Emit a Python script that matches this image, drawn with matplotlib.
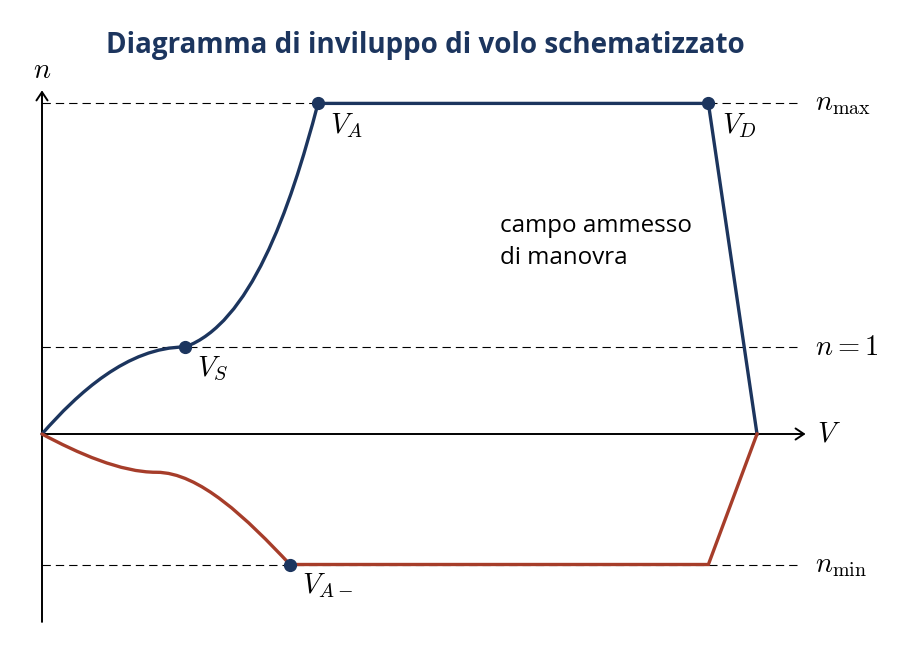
import matplotlib
matplotlib.use("Agg")
import matplotlib.pyplot as plt
from matplotlib.path import Path
from matplotlib.patches import PathPatch, FancyArrowPatch

plt.rcParams['mathtext.fontset'] = 'cm'
plt.rcParams['lines.scale_dashes'] = False

# ---- data (V normalised to V_S = 1, n = load factor) ----
n_max = 3.8
n_min = -1.5
V_S, V_A, V_D, V_end = 1.0, 1.93, 4.66, 5.0
V_Aneg = 1.734
V_low_knee, n_low_knee = 0.80, -0.44

# Bezier anchor/control points
upper_curve_V = [0.0, 0.25, 0.60, V_S, 1.45, 1.73, V_A]
upper_curve_n = [0.0, 0.47, 1.00, 1.0, 1.264, 2.544, n_max]
lower_curve_V = [0.0, 0.25, 0.55, V_low_knee, 1.10, 1.434, V_Aneg]
lower_curve_n = [0.0, -0.22, n_low_knee, n_low_knee, n_low_knee, -0.975, n_min]

upper_line_V = [V_A, V_D, V_end]
upper_line_n = [n_max, n_max, 0.0]
lower_line_V = [V_Aneg, V_D, V_end]
lower_line_n = [n_min, n_min, 0.0]

marker_V = [V_S, V_A, V_D, V_Aneg]
marker_n = [1.0, n_max, n_max, n_min]

ref_levels = [n_max, 1.0, n_min]
ref_labels = [r'$n_{\max}$', r'$n = 1$', r'$n_{\min}$']

BLUE = '#1c355e'
RED = '#a63d2a'
FS = 20.5
LW = 2.4

fig = plt.figure(figsize=(9.2, 6.5), dpi=100)
ax = fig.add_axes([0, 0, 1, 1])
ax.set_xlim(-42 / 143, 878 / 143)
ax.set_ylim(-216 / 87, 434 / 87)
ax.axis('off')

# dashed reference lines
for lvl, lab in zip(ref_levels, ref_labels):
    ax.plot([0, 5.30], [lvl, lvl], color='black', lw=0.8, dashes=(6, 3.6), zorder=1)
    ax.text(5.406, lvl, lab, fontsize=FS, ha='left', va='center', color='black')

# axes arrows
ax.add_patch(FancyArrowPatch((0, 0), (5.34, 0), arrowstyle='->,head_length=6,head_width=4',
                             lw=1.4, color='black', zorder=2, shrinkA=0, shrinkB=0))
ax.add_patch(FancyArrowPatch((0, -2.16), (0, 3.95), arrowstyle='->,head_length=6,head_width=4',
                             lw=1.4, color='black', zorder=2, shrinkA=0, shrinkB=0))
ax.text(5.42, 0, r'$V$', fontsize=FS, ha='left', va='center')
ax.text(0, 4.18, r'$n$', fontsize=FS, ha='center', va='center')

codes = [Path.MOVETO] + [Path.CURVE4] * 6
up = Path(list(zip(upper_curve_V, upper_curve_n)), codes)
lo = Path(list(zip(lower_curve_V, lower_curve_n)), codes)
ax.add_patch(PathPatch(up, fill=False, edgecolor=BLUE, lw=LW, zorder=3, capstyle='round'))
ax.add_patch(PathPatch(lo, fill=False, edgecolor=RED, lw=LW, zorder=3, capstyle='round'))
ax.plot(upper_line_V, upper_line_n, color=BLUE, lw=LW, zorder=3, solid_joinstyle='miter')
ax.plot(lower_line_V, lower_line_n, color=RED, lw=LW, zorder=3, solid_joinstyle='miter')

ax.plot(marker_V, marker_n, 'o', color=BLUE, ms=8.5, zorder=4)

ax.text(1.084, 0.91, r'$V_S$', fontsize=FS, ha='left', va='top')
ax.text(2.014, 3.71, r'$V_A$', fontsize=FS, ha='left', va='top')
ax.text(4.755, 3.71, r'$V_D$', fontsize=FS, ha='left', va='top')
ax.text(1.818, -1.58, r'$V_{A-}$', fontsize=FS, ha='left', va='top')

ax.text(3.203, 2.39, 'campo ammesso', fontsize=17.4, family='Open Sans', ha='left', va='center')
ax.text(3.203, 2.02, 'di manovra', fontsize=17.4, family='Open Sans', ha='left', va='center')

ax.text(2.678, 4.47, 'Diagramma di inviluppo di volo schematizzato', fontsize=20,
        family='Open Sans', fontweight='bold', color=BLUE, ha='center', va='center')

fig.savefig('out.png', dpi=100)
